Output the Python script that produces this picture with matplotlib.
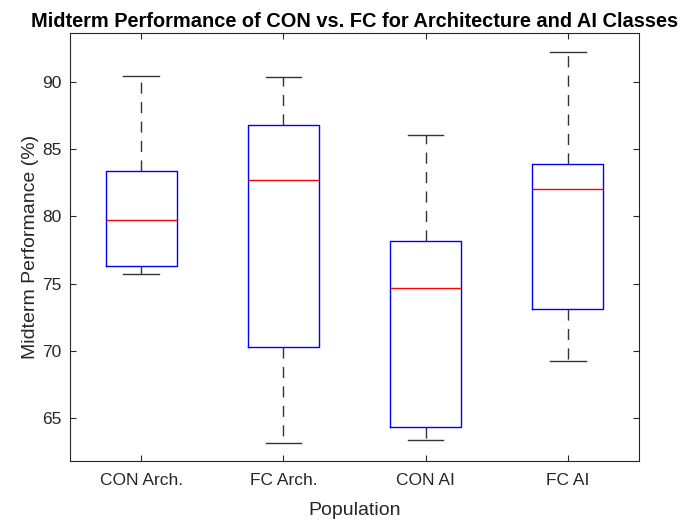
import matplotlib.pyplot as plt

plt.rcParams['font.family'] = ['Liberation Sans', 'DejaVu Sans']

# lecture des boites (whisker bas, Q1, mediane, Q3, whisker haut)
labels = ['CON Arch.', 'FC Arch.', 'CON AI', 'FC AI']
whislo = [75.69, 63.16, 63.36, 69.26]
q1 = [76.33, 70.31, 64.33, 73.11]
med = [79.71, 82.68, 74.67, 82.04]
q3 = [83.38, 86.82, 78.14, 83.92]
whishi = [90.47, 90.40, 86.03, 92.23]

stats = []
for i in range(len(labels)):
    stats.append({'label': labels[i], 'whislo': whislo[i], 'q1': q1[i],
                  'med': med[i], 'q3': q3[i], 'whishi': whishi[i], 'fliers': []})

fig = plt.figure(figsize=(6.84, 5.2), dpi=100)
ax = fig.add_axes([0.1023, 0.1135, 0.8319, 0.823])

ax.bxp(stats, widths=0.5, showfliers=False,
       boxprops=dict(color='#0000ff', linewidth=1.0),
       medianprops=dict(color='#ff0000', linewidth=1.0),
       whiskerprops=dict(color='#333333', linewidth=1.0, linestyle=(0, (8, 6))),
       capprops=dict(color='#333333', linewidth=1.0),
       capwidths=0.25)

ax.set_xlim(0.5, 4.5)
ax.set_ylim(61.8, 93.65)
ax.set_yticks([65, 70, 75, 80, 85, 90])

for s in ax.spines.values():
    s.set_color('#262626')
    s.set_linewidth(0.8)
ax.tick_params(direction='in', length=4, width=0.8, colors='#262626',
               labelsize=12.5, top=True, right=True, pad=6)
ax.tick_params(axis='x', pad=9)

ax.set_title('Midterm Performance of CON vs. FC for Architecture and AI Classes',
             fontsize=14.4, fontweight='bold', pad=4)
ax.set_xlabel('Population', fontsize=14, color='#262626', labelpad=10)
ax.set_ylabel('Midterm Performance (%)', fontsize=14, color='#262626', labelpad=2)

fig.savefig('out.png', dpi=100)
